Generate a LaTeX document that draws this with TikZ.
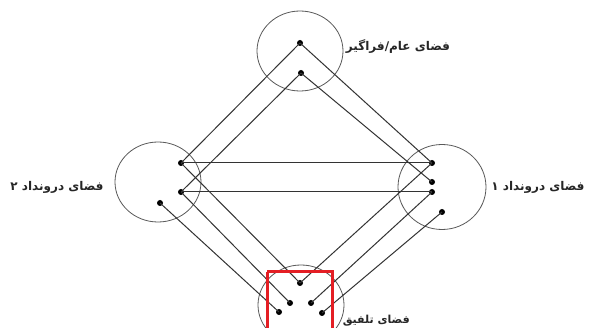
\documentclass[tikz,border=0pt]{standalone}
\usepackage{fontspec}
\newfontfamily\fa[Script=Arabic]{DejaVu Sans}
\TeXXeTstate=1
\usetikzlibrary{shapes.geometric}
\definecolor{boxred}{RGB}{228,30,36}
\begin{document}
\begin{tikzpicture}[x=1pt,y=-1pt,
  ring/.style={draw=black!65, line width=0.8pt, ellipse, minimum width=86pt, minimum height=80pt, inner sep=0pt},
  dot/.style={circle, fill=black, inner sep=0pt, minimum size=6pt},
  link/.style={draw=black!80, line width=1pt},
  lbl/.style={font=\fa\bfseries\fontsize{12}{14}\selectfont, inner sep=0pt, text=black!85}]
\useasboundingbox (0,0) rectangle (590,328);
\fill[white] (0,0) rectangle (590,328);
\begin{scope}
\clip (0,0) rectangle (590,328);
% circles
\node[ring] (ct) at (300,51) {};
\node[ring] (cl) at (158,182) {};
\node[ring, minimum width=88pt, minimum height=85pt] (cr) at (442,187) {};
\node[ring, minimum width=86pt] (cb) at (301,305) {};
% dots
\node[dot] (t1) at (300,43) {};
\node[dot] (t2) at (301,73) {};
\node[dot] (l1) at (181,163) {};
\node[dot] (l2) at (181,192) {};
\node[dot] (l3) at (160,203) {};
\node[dot] (r1) at (432,163) {};
\node[dot] (r2) at (432,182) {};
\node[dot] (r3) at (432,192) {};
\node[dot] (r4) at (442,212) {};
\node[dot] (b1) at (300,283) {};
\node[dot] (b2) at (290,303) {};
\node[dot] (b3) at (311,303) {};
\node[dot] (b4) at (279,312) {};
\node[dot] (b5) at (322,313) {};
% connectors
\draw[link] (t1.center) -- (l1.center);
\draw[link] (t1.center) -- (r1.center);
\draw[link] (t2.center) -- (l2.center);
\draw[link] (t2.center) -- (r2.center);
\draw[link] (l1.center) -- (r1.center);
\draw[link] (l2.center) -- (r3.center);
\draw[link] (l1.center) -- (b1.center);
\draw[link] (l2.center) -- (b2.center);
\draw[link] (l3.center) -- (b4.center);
\draw[link] (r1.center) -- (b1.center);
\draw[link] (r3.center) -- (b3.center);
\draw[link] (r4.center) -- (b5.center);
% highlight box
\draw[boxred, line width=3pt] (267,272) -- (267,340) (267,272) -- (332,272) -- (332,340);
\end{scope}
% labels
\node[lbl] (lt) at (398,47) {\beginR فضای عام/فراگیر\endR};
\node[lbl] (ll) at (57,187) {\beginR فضای درونداد ۲\endR};
\node[lbl] (lr) at (538,187) {\beginR فضای درونداد ۱\endR};
\node[lbl, anchor=east, font=\fa\bfseries\fontsize{11}{13}\selectfont] (lb) at (410,321) {\beginR فضای تلفیق\endR};
\end{tikzpicture}
\end{document}
